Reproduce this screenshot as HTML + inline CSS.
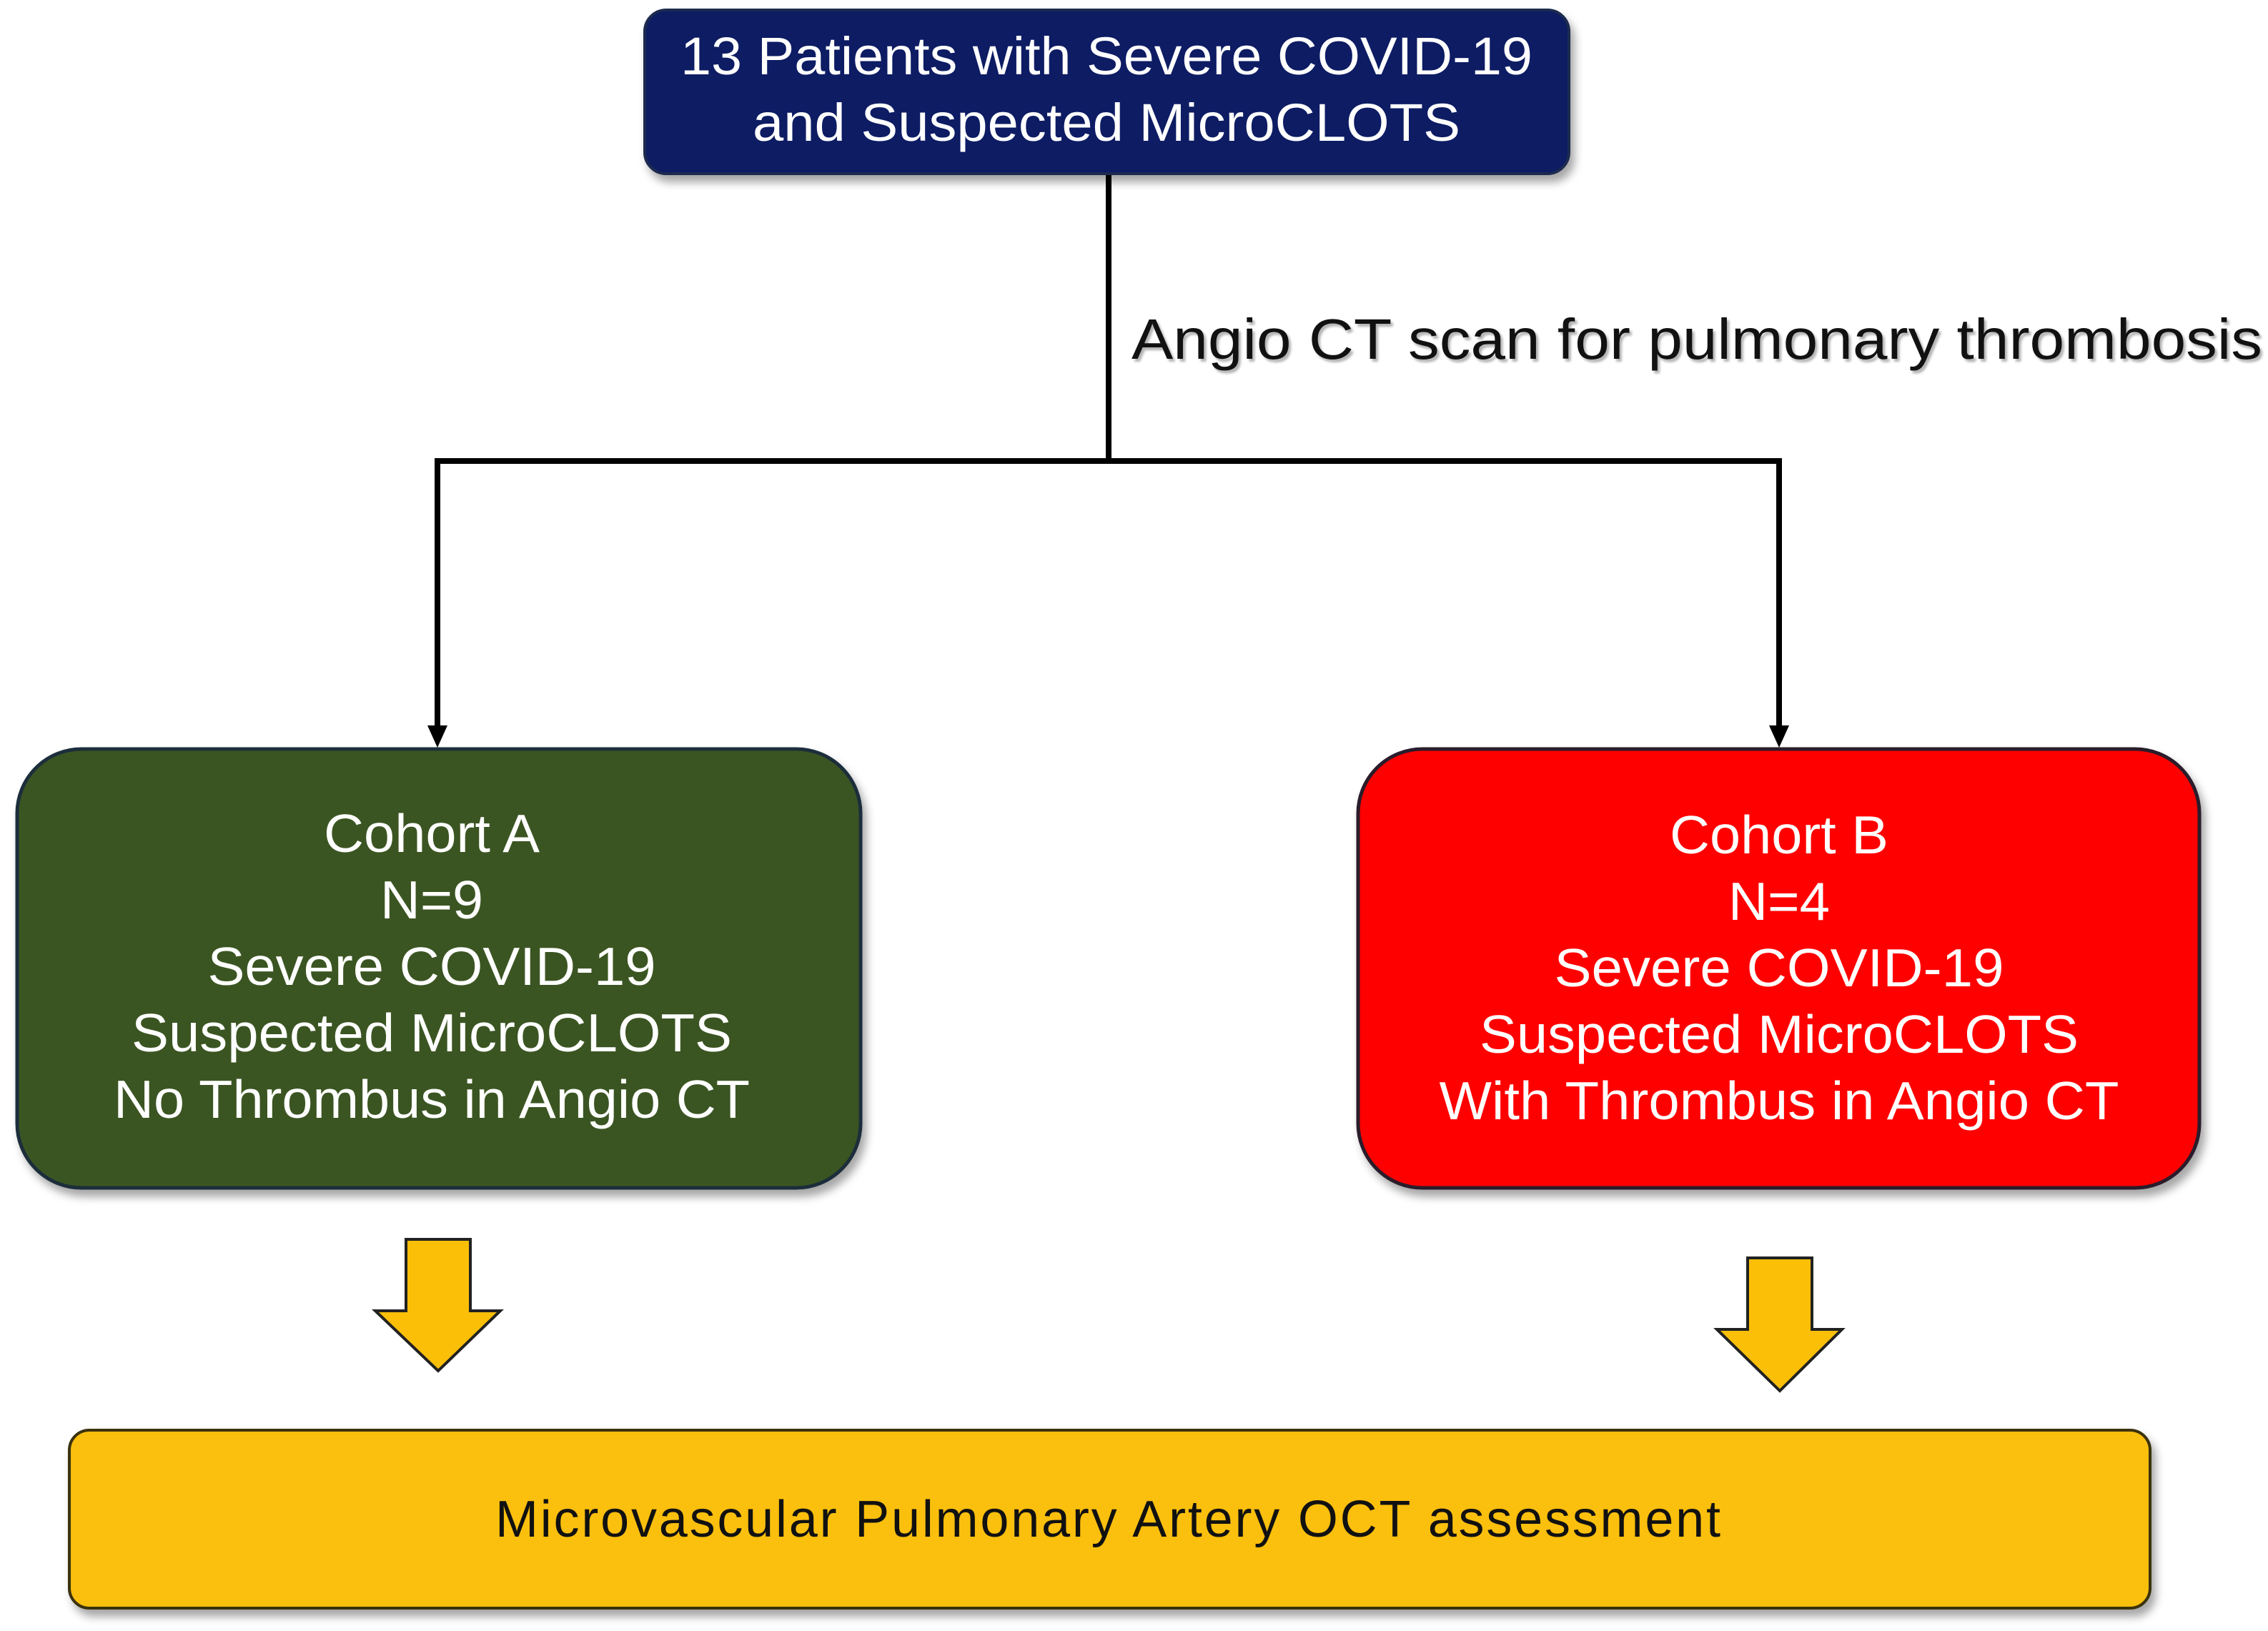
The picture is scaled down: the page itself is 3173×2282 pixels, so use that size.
<!DOCTYPE html>
<html><head><meta charset="utf-8"><style>
html,body{margin:0;padding:0;background:#fff;}
svg{display:block;}
text{font-family:"Liberation Sans",Arial,sans-serif;}
</style></head><body>
<svg width="3173" height="2282" viewBox="0 0 3173 2282" xmlns="http://www.w3.org/2000/svg">
<defs>
<filter id="sh" x="-5%" y="-5%" width="110%" height="115%">
<feDropShadow dx="6" dy="10" stdDeviation="6" flood-color="#000" flood-opacity="0.35"/>
</filter>
</defs>
<g stroke="#000" stroke-width="8" fill="none">
<line x1="1551" y1="240" x2="1551" y2="647"/>
<polyline points="612,1020 612,645 2489,645 2489,1020"/>
</g>
<polygon points="598,1015 626,1015 612,1046" fill="#000"/>
<polygon points="2475,1015 2503,1015 2489,1046" fill="#000"/>
<text x="1583" y="502" font-size="80" fill="#111" textLength="1582" lengthAdjust="spacingAndGlyphs" style="text-shadow:3px 4px 3px rgba(0,0,0,0.3)">Angio CT scan for pulmonary thrombosis</text>
<rect x="902" y="14" width="1293" height="229" rx="30" fill="#0c1e63" stroke="#1a2a50" stroke-width="4" filter="url(#sh)"/>
<g font-size="74" fill="#fff" text-anchor="middle" lengthAdjust="spacingAndGlyphs">
<text x="1548" y="104" textLength="1192" lengthAdjust="spacingAndGlyphs">13 Patients with Severe COVID-19</text>
<text x="1548" y="197" textLength="990" lengthAdjust="spacingAndGlyphs">and Suspected MicroCLOTS</text>
</g>
<rect x="24" y="1048" width="1180" height="614" rx="90" fill="#3b5522" stroke="#1f2d3a" stroke-width="5" filter="url(#sh)"/>
<g font-size="75" fill="#fff" text-anchor="middle">
<text x="604" y="1192" textLength="302" lengthAdjust="spacingAndGlyphs">Cohort A</text>
<text x="604" y="1285" textLength="144" lengthAdjust="spacingAndGlyphs">N=9</text>
<text x="604" y="1378" textLength="627" lengthAdjust="spacingAndGlyphs">Severe COVID-19</text>
<text x="604" y="1471" textLength="840" lengthAdjust="spacingAndGlyphs">Suspected MicroCLOTS</text>
<text x="604" y="1564" textLength="890" lengthAdjust="spacingAndGlyphs">No Thrombus in Angio CT</text>
</g>
<rect x="1900" y="1048" width="1177" height="614" rx="90" fill="#fe0000" stroke="#2a1a2a" stroke-width="5" filter="url(#sh)"/>
<g font-size="75" fill="#fff" text-anchor="middle">
<text x="2489" y="1194" textLength="306" lengthAdjust="spacingAndGlyphs">Cohort B</text>
<text x="2489" y="1287" textLength="142" lengthAdjust="spacingAndGlyphs">N=4</text>
<text x="2489" y="1380" textLength="629" lengthAdjust="spacingAndGlyphs">Severe COVID-19</text>
<text x="2489" y="1473" textLength="838" lengthAdjust="spacingAndGlyphs">Suspected MicroCLOTS</text>
<text x="2489" y="1566" textLength="951" lengthAdjust="spacingAndGlyphs">With Thrombus in Angio CT</text>
</g>
<polygon points="568,1734 658,1734 658,1834 700,1834 613,1918 525,1834 568,1834" fill="#fbbf08" stroke="#222" stroke-width="4"/>
<polygon points="2445,1760 2535,1760 2535,1860 2577,1860 2490,1946 2402,1860 2445,1860" fill="#fbbf08" stroke="#222" stroke-width="4"/>
<rect x="97" y="2001" width="2911" height="249" rx="28" fill="#fbbf08" stroke="#3a3010" stroke-width="4" filter="url(#sh)"/>
<text x="1550" y="2150" font-size="72" fill="#111" text-anchor="middle" textLength="1714" lengthAdjust="spacing">Microvascular Pulmonary Artery OCT assessment</text>
</svg>
</body></html>
